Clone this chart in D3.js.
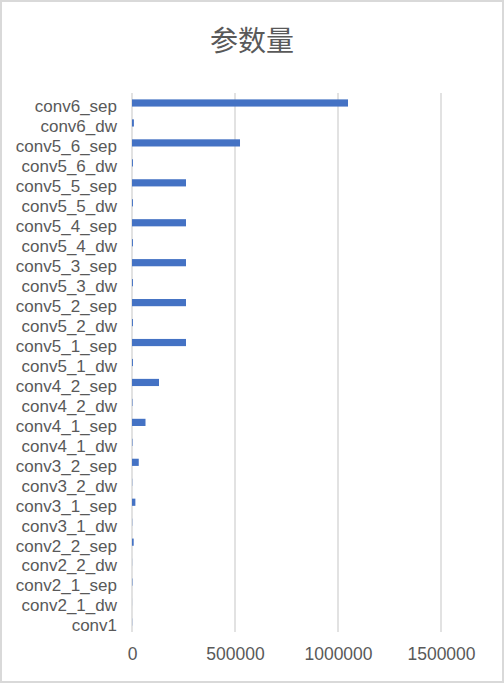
<!DOCTYPE html>
<html>
<head>
<meta charset="utf-8">
<script src="https://cdn.jsdelivr.net/npm/d3@7"></script>
<style>
  body { margin: 0; background: #fff; }
  text { font-family: "Noto Sans CJK SC", "Liberation Sans", sans-serif; }
</style>
</head>
<body>
<div id="chart"></div>
<script>
// layer names, bottom to top as in the picture
var layers = ['conv1','conv2_1_dw','conv2_1_sep','conv2_2_dw','conv2_2_sep',
  'conv3_1_dw','conv3_1_sep','conv3_2_dw','conv3_2_sep',
  'conv4_1_dw','conv4_1_sep','conv4_2_dw','conv4_2_sep',
  'conv5_1_dw','conv5_1_sep','conv5_2_dw','conv5_2_sep','conv5_3_dw','conv5_3_sep',
  'conv5_4_dw','conv5_4_sep','conv5_5_dw','conv5_5_sep','conv5_6_dw','conv5_6_sep',
  'conv6_dw','conv6_sep'];
var params = [864, 288, 2048, 576, 8192,
  1152, 16384, 1152, 32768,
  2304, 65536, 2304, 131072,
  4608, 262144, 4608, 262144, 4608, 262144,
  4608, 262144, 4608, 262144, 4608, 524288,
  9216, 1048576];
var xTicks = [0, 500000, 1000000, 1500000];

var W = 504, H = 683;
var margin = {top: 93, right: 63, bottom: 51, left: 132};
var width = W - margin.left - margin.right,
    height = H - margin.top - margin.bottom;

var svg = d3.select("#chart").append("svg")
    .attr("width", W).attr("height", H);

// outer frame
svg.append("rect")
  .attr("x", 1).attr("y", 1).attr("width", W - 2).attr("height", H - 2)
  .attr("fill", "#fff").attr("stroke", "#d9d9d9").attr("stroke-width", 2);

svg.append("text")
  .text("参数量")
  .attr("x", 252).attr("y", 51)
  .attr("text-anchor", "middle")
  .style("font-size", "28px")
  .style("fill", "#595959");

var g = svg.append("g")
  .attr("transform", "translate(" + margin.left + "," + margin.top + ")");

var x = d3.scaleLinear().domain([0, 1500000]).range([0, width]);
var y = d3.scaleBand()
  .domain(layers.slice().reverse())
  .range([0, height])
  .paddingInner(0.64).paddingOuter(0.32);

// gridlines
g.selectAll(".grid").data(xTicks).enter().append("line")
  .attr("x1", d => x(d)).attr("x2", d => x(d))
  .attr("y1", 0).attr("y2", height)
  .attr("stroke", "#d9d9d9").attr("stroke-width", 1.5);

g.selectAll(".bar").data(layers).enter().append("rect")
  .attr("x", x(0))
  .attr("y", d => y(d))
  .attr("width", (d, i) => x(params[i]) - x(0))
  .attr("height", y.bandwidth())
  .attr("fill", "#4472c4");

// category labels
var yAxis = g.append("g").call(d3.axisLeft(y).tickSize(0).tickPadding(15));
yAxis.select(".domain").remove();
yAxis.selectAll("text").style("font-size", "17px").style("fill", "#595959")
  .attr("dy", "0.55em")
  .style("font-family", "'Liberation Sans', sans-serif");

// x tick labels
var xAxis = g.append("g")
  .attr("transform", "translate(0," + height + ")")
  .call(d3.axisBottom(x).tickValues(xTicks).tickSize(0).tickPadding(16).tickFormat(d3.format("d")));
xAxis.select(".domain").remove();
xAxis.selectAll("text").style("font-size", "17.5px").style("fill", "#595959")
  .style("font-family", "'Liberation Sans', sans-serif");
</script>
</body>
</html>
